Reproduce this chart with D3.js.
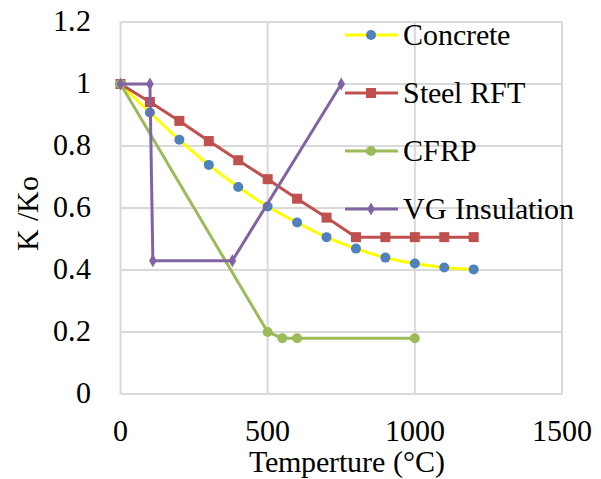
<!DOCTYPE html>
<html><head><meta charset="utf-8"><script src="https://cdn.jsdelivr.net/npm/d3@7"></script>
<style>
  @font-face { font-family: "RefSerif"; src: local("Liberation Serif"), local("LiberationSerif"), local("Times New Roman"); }
  body { margin: 0; }
  #s text { font-family: "RefSerif", "Liberation Serif", "Times New Roman", serif !important; }
</style>
</head>
<body>
<svg id="s" width="601" height="479"></svg>
<script>
// Data
const concreteT = [0, 100, 200, 300, 400, 500, 600, 700, 800, 900, 1000, 1100, 1200];
const concreteK = [1.0, 0.908, 0.82, 0.739, 0.668, 0.605, 0.553, 0.506, 0.469, 0.44, 0.421, 0.408, 0.402];

const steelT = [0, 100, 200, 300, 400, 500, 600, 700, 800, 900, 1000, 1100, 1200];
const steelK = [1.0, 0.942, 0.881, 0.816, 0.754, 0.693, 0.63, 0.569, 0.506, 0.506, 0.506, 0.506, 0.506];

const cfrpT = [0, 500, 550, 600, 1000];
const cfrpK = [1.0, 0.2, 0.18, 0.18, 0.18];

const vgT = [0, 100, 110, 380, 750];
const vgK = [1.0, 1.0, 0.43, 0.43, 1.0];

const xTicks = [0, 500, 1000, 1500];
const yTicks = [0, 0.2, 0.4, 0.6, 0.8, 1, 1.2];

const series = [
  { name: "Concrete", t: concreteT, k: concreteK, line: "#FFFF00", mark: "#4F81BD", shape: "circle", r: 5, smooth: true },
  { name: "Steel RFT", t: steelT, k: steelK, line: "#C0504D", mark: "#C0504D", shape: "square", r: 5, smooth: false },
  { name: "CFRP", t: cfrpT, k: cfrpK, line: "#9BBB59", mark: "#9BBB59", shape: "circle", r: 5, smooth: false },
  { name: "VG Insulation", t: vgT, k: vgK, line: "#8064A2", mark: "#8064A2", shape: "diamond", r: 5, smooth: false },
];

const W = 601, H = 479;
const margin = { top: 22, right: 39, bottom: 85, left: 120.5 };
const w = W - margin.left - margin.right;
const h = H - margin.top - margin.bottom;

const svg = d3.select("#s");

const g = svg.append("g")
  .attr("transform", `translate(${margin.left},${margin.top})`);

const x = d3.scaleLinear().domain([0, 1500]).range([0, w]);
const y = d3.scaleLinear().domain([0, 1.2]).range([h, 0]);

// Gridlines
g.append("g").selectAll("line").data(yTicks).join("line")
  .attr("x1", 0).attr("x2", w)
  .attr("y1", d => y(d)).attr("y2", d => y(d))
  .attr("stroke", "#d9d9d9").attr("stroke-width", 2);
g.append("g").selectAll("line").data(xTicks).join("line")
  .attr("y1", 0).attr("y2", h)
  .attr("x1", d => x(d)).attr("x2", d => x(d))
  .attr("stroke", "#d9d9d9").attr("stroke-width", 2);

// Tick labels, placed with the scales
g.append("g").selectAll("text").data(xTicks).join("text")
  .attr("x", d => x(d)).attr("y", h + 47)
  .attr("text-anchor", "middle").attr("font-size", 30)
  .text(d => d);
g.append("g").selectAll("text").data(yTicks).join("text")
  .attr("x", -30).attr("y", d => y(d) + 9)
  .attr("text-anchor", "end").attr("font-size", 30)
  .text(d => String(d));

// Marker drawing helper
function drawMarker(sel, s) {
  if (s.shape === "circle") {
    sel.append("circle").attr("r", s.r).attr("fill", s.mark);
  } else if (s.shape === "square") {
    sel.append("rect").attr("x", -s.r).attr("y", -s.r)
      .attr("width", 2 * s.r).attr("height", 2 * s.r).attr("fill", s.mark);
  } else {
    sel.append("path").attr("d", d3.symbol(d3.symbolDiamond, 50)()).attr("fill", s.mark);
  }
}

// Series
series.forEach(s => {
  const pts = s.t.map((t, i) => [t, s.k[i]]);
  const line = d3.line()
    .x(d => x(d[0])).y(d => y(d[1]))
    .curve(s.smooth ? d3.curveCatmullRom.alpha(0.5) : d3.curveLinear);
  g.append("path")
    .datum(pts)
    .attr("d", line)
    .attr("fill", "none")
    .attr("stroke", s.line)
    .attr("stroke-width", 3)
    .attr("stroke-linejoin", "round");
  g.append("g").selectAll("g").data(pts).join("g")
    .attr("transform", d => `translate(${x(d[0])},${y(d[1])})`)
    .each(function () { drawMarker(d3.select(this), s); });
});

// Legend
const legend = svg.append("g").attr("transform", "translate(345,35)");
series.forEach((s, i) => {
  const row = legend.append("g").attr("transform", `translate(0,${i * 58})`);
  row.append("line").attr("x1", 0).attr("x2", 53).attr("y1", 0).attr("y2", 0)
    .attr("stroke", s.line).attr("stroke-width", 3);
  const m = row.append("g").attr("transform", "translate(26,0)");
  drawMarker(m, s);
  row.append("text").attr("x", 58).attr("y", 10).attr("font-size", 30).text(s.name);
});

// Axis titles
svg.append("text")
  .attr("x", margin.left + w / 2 + 6).attr("y", 472)
  .attr("text-anchor", "middle").attr("font-size", 30)
  .text("Temperture (\u00B0C)");

svg.append("text")
  .attr("transform", "rotate(-90)")
  .attr("x", -(margin.top + h / 2 + 5)).attr("y", 38)
  .attr("text-anchor", "middle").attr("font-size", 30)
  .text("K /Ko");
</script>
</body>
</html>
